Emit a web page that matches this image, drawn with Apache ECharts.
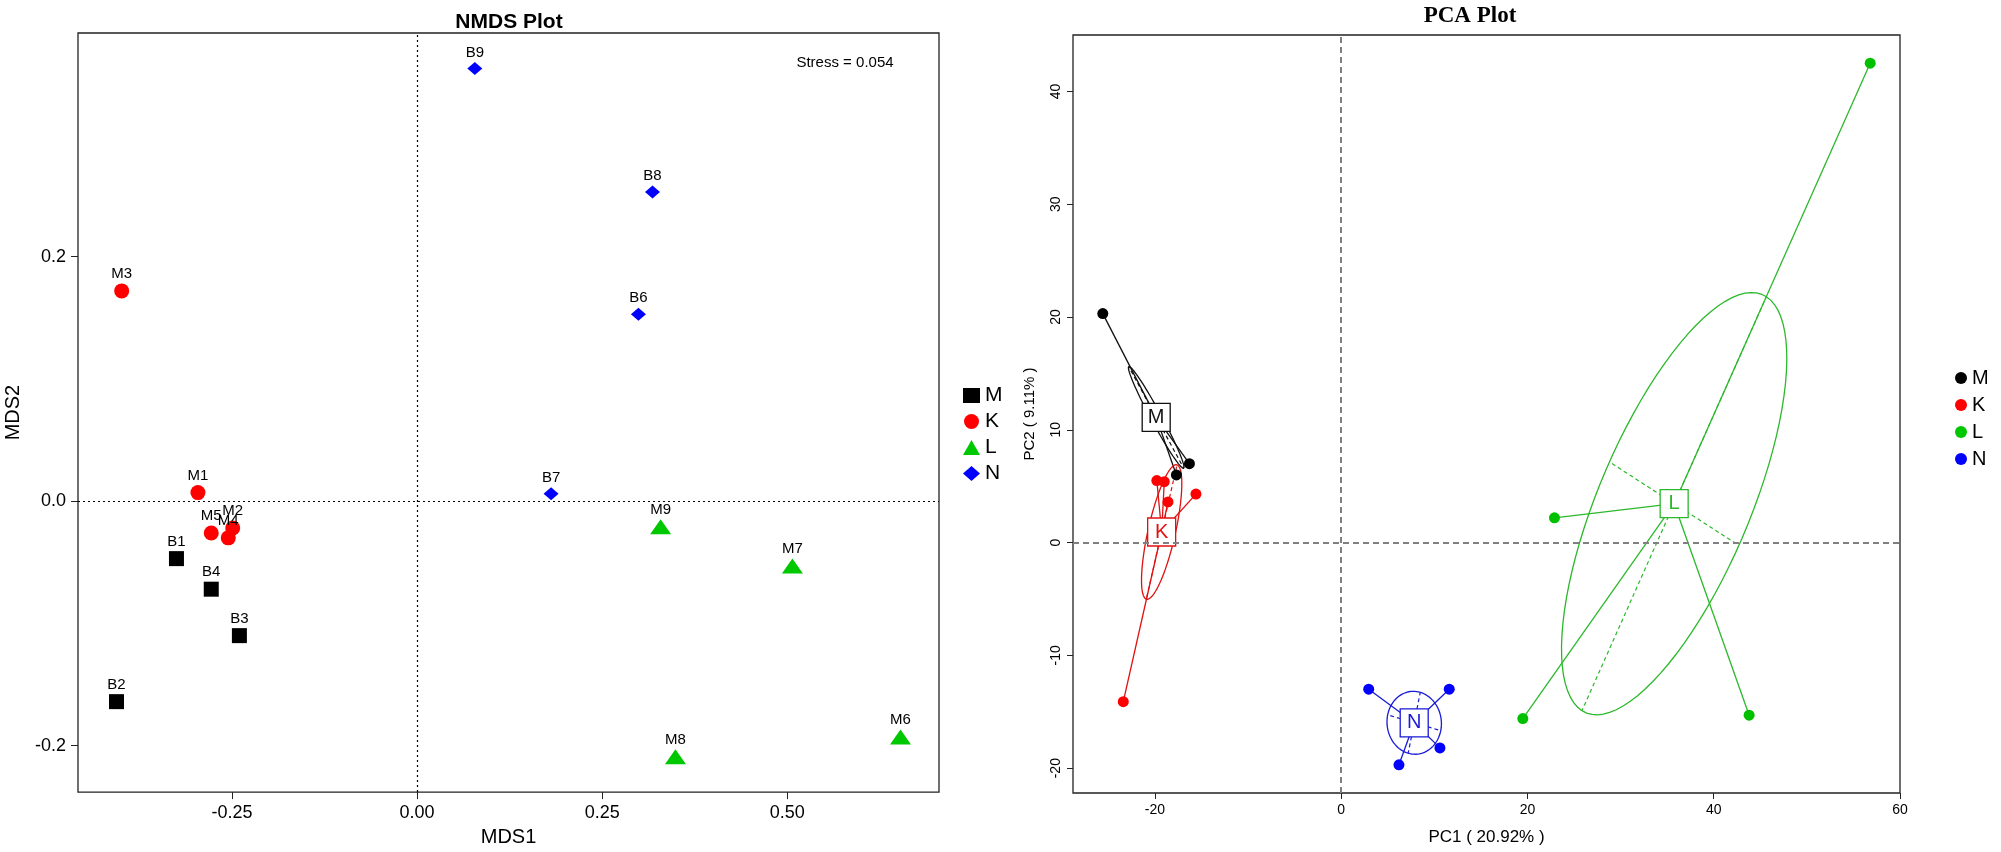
<!DOCTYPE html>
<html>
<head>
<meta charset="utf-8">
<title>NMDS / PCA</title>
<script src="https://cdn.jsdelivr.net/npm/echarts@6/dist/echarts.min.js"></script>
<style>
html, body { margin: 0; padding: 0; background: #fff; }
#main { width: 2001px; height: 852px; }
</style>
</head>
<body>
<div id="main"></div>
<script>
var groups = ['M', 'K', 'L', 'N'];

// NMDS: sample names and (MDS1, MDS2)
var nmdsNamesM = ['B1', 'B2', 'B3', 'B4'];
var nmdsM = [[-0.325, -0.047], [-0.406, -0.164], [-0.240, -0.110], [-0.278, -0.072]];
var nmdsNamesK = ['M1', 'M2', 'M3', 'M4', 'M5'];
var nmdsK = [[-0.296, 0.007], [-0.249, -0.022], [-0.399, 0.172], [-0.255, -0.030], [-0.278, -0.026]];
var nmdsNamesL = ['M6', 'M7', 'M8', 'M9'];
var nmdsL = [[0.653, -0.193], [0.507, -0.053], [0.349, -0.209], [0.329, -0.021]];
var nmdsNamesN = ['B6', 'B7', 'B8', 'B9'];
var nmdsN = [[0.299, 0.153], [0.181, 0.006], [0.318, 0.253], [0.078, 0.354]];
var nmdsXTicks = [-0.25, 0, 0.25, 0.5];
var nmdsYTicks = [-0.2, 0, 0.2];
var stressText = 'Stress = 0.054';

// PCA: (PC1, PC2)
var pcaM = [[-25.6, 20.3], [-16.3, 7.0], [-17.7, 6.0]];
var pcaK = [[-19.8, 5.5], [-19.0, 5.4], [-18.6, 3.6], [-15.6, 4.3], [-23.4, -14.1]];
var pcaL = [[56.8, 42.5], [22.9, 2.2], [19.5, -15.6], [43.8, -15.3]];
var pcaN = [[2.95, -13.0], [11.6, -13.0], [10.6, -18.2], [6.2, -19.7]];
var pcaXTicks = [-20, 0, 20, 40, 60];
var pcaYTicks = [-20, -10, 0, 10, 20, 30, 40];
// ellipse semi axes per group (M, K, L, N)
var ellipseU = [[-2.95, 4.5], [1.65, 5.95], [-9.9, -18.35], [0.65, 2.7]];
var ellipseV = [[0.45, 0.3], [1.4, -0.39], [-6.95, 3.7], [2.85, -0.7]];

var nmdsColors = ['#000000', '#ff0000', '#00c800', '#0000ff'];
var nmdsSymbols = ['rect', 'circle', 'triangle', 'diamond'];
var nmdsSizes = [[15, 15], [15, 15], [21, 15], [15, 13]];
var pcaColors = ['#000000', '#ff0000', '#00c000', '#0000ff'];
var pcaLineColors = ['#111111', '#e01010', '#2cb82c', '#1a1ad8'];

var FONT = '"Liberation Sans", Arial, sans-serif';

function centroid(pts) {
    var sx = 0, sy = 0;
    for (var i = 0; i < pts.length; i++) { sx += pts[i][0]; sy += pts[i][1]; }
    return [sx / pts.length, sy / pts.length];
}

function ellipsePath(c, u, v) {
    var out = [];
    for (var i = 0; i <= 90; i++) {
        var t = Math.PI * 2 * i / 90;
        out.push([c[0] + u[0] * Math.cos(t) + v[0] * Math.sin(t),
                  c[1] + u[1] * Math.cos(t) + v[1] * Math.sin(t)]);
    }
    return out;
}

var myChart = echarts.init(document.getElementById('main'));

var nmdsData = [nmdsM, nmdsK, nmdsL, nmdsN];
var nmdsNames = [nmdsNamesM, nmdsNamesK, nmdsNamesL, nmdsNamesN];
var pcaData = [pcaM, pcaK, pcaL, pcaN];

var series = [];

// NMDS points
for (var g = 0; g < groups.length; g++) {
    var items = [];
    for (var j = 0; j < nmdsData[g].length; j++) {
        items.push({ name: nmdsNames[g][j], value: nmdsData[g][j] });
    }
    var s = {
        name: groups[g],
        type: 'scatter',
        xAxisIndex: 0,
        yAxisIndex: 0,
        symbol: nmdsSymbols[g],
        symbolSize: nmdsSizes[g],
        itemStyle: { color: nmdsColors[g], opacity: 1 },
        label: {
            show: true,
            position: 'top',
            distance: 2,
            formatter: '{b}',
            color: '#000',
            fontSize: 15,
            fontFamily: FONT
        },
        z: 3,
        data: items
    };
    if (g === 0) {
        s.markLine = {
            silent: true,
            symbol: ['none', 'none'],
            label: { show: false },
            lineStyle: { color: '#000', type: [2, 3], width: 1.2 },
            data: [{ xAxis: 0 }, { yAxis: 0 }]
        };
    }
    series.push(s);
}

// PCA: spiders, ellipses, points, centroid boxes
for (var g = 0; g < groups.length; g++) {
    var pts = pcaData[g];
    var c = centroid(pts);
    var u = ellipseU[g], v = ellipseV[g];
    var spider = [];
    for (var j = 0; j < pts.length; j++) {
        spider.push({ coords: [c, pts[j]] });
    }
    var sp = {
        name: groups[g] + ' spider',
        type: 'lines',
        coordinateSystem: 'cartesian2d',
        xAxisIndex: 1,
        yAxisIndex: 1,
        silent: true,
        z: 2,
        lineStyle: { color: pcaLineColors[g], width: 1.3, opacity: 1, curveness: 0 },
        data: spider
    };
    if (g === 0) {
        sp.markLine = {
            silent: true,
            symbol: ['none', 'none'],
            label: { show: false },
            lineStyle: { color: '#808080', type: [6, 4], width: 2 },
            data: [{ xAxis: 0 }, { yAxis: 0 }]
        };
    }
    series.push(sp);
    series.push({
        name: groups[g] + ' ellipse',
        type: 'lines',
        coordinateSystem: 'cartesian2d',
        xAxisIndex: 1,
        yAxisIndex: 1,
        polyline: true,
        silent: true,
        z: 2,
        lineStyle: { color: pcaLineColors[g], width: 1.3, opacity: 1 },
        data: [{ coords: ellipsePath(c, u, v) }]
    });
    series.push({
        name: groups[g] + ' axes',
        type: 'lines',
        coordinateSystem: 'cartesian2d',
        xAxisIndex: 1,
        yAxisIndex: 1,
        silent: true,
        z: 2,
        lineStyle: { color: pcaLineColors[g], width: 1.2, opacity: 1, type: [4, 3] },
        data: [
            { coords: [c, [c[0] + u[0], c[1] + u[1]]] },
            { coords: [c, [c[0] - u[0], c[1] - u[1]]] },
            { coords: [c, [c[0] + v[0], c[1] + v[1]]] },
            { coords: [c, [c[0] - v[0], c[1] - v[1]]] }
        ]
    });
    series.push({
        name: groups[g],
        type: 'scatter',
        xAxisIndex: 1,
        yAxisIndex: 1,
        symbol: 'circle',
        symbolSize: 11,
        itemStyle: { color: pcaColors[g], opacity: 1 },
        z: 3,
        data: pts
    });
    series.push({
        name: groups[g] + ' centre',
        type: 'scatter',
        xAxisIndex: 1,
        yAxisIndex: 1,
        symbol: 'rect',
        symbolSize: [28, 28],
        itemStyle: { color: '#fff', borderColor: pcaLineColors[g], borderWidth: 1.3, opacity: 1 },
        label: {
            show: true,
            position: 'inside',
            formatter: groups[g],
            color: pcaLineColors[g],
            fontSize: 20,
            fontFamily: FONT
        },
        z: 4,
        data: [c]
    });
}

function tickFmt(d) {
    return function (val) { return val.toFixed(d); };
}

var option = {
    animation: false,
    backgroundColor: '#fff',
    graphic: [
        { type: 'text', x: 509, y: 22, style: { text: 'NMDS Plot', font: 'bold 21px ' + FONT, fill: '#000', textAlign: 'center', textVerticalAlign: 'middle' } },
        { type: 'text', x: 845, y: 63, style: { text: stressText, font: '15px ' + FONT, fill: '#000', textAlign: 'center', textVerticalAlign: 'middle' } },
        { type: 'text', x: 1470, y: 16, style: { text: 'PCA Plot', font: 'bold 23px "Liberation Serif", "Times New Roman", serif', fill: '#000', textAlign: 'center', textVerticalAlign: 'middle' } }
    ],
    legend: [
        {
            orient: 'vertical',
            left: 958,
            top: 380,
            itemWidth: 17,
            itemHeight: 15,
            itemGap: 5,
            selectedMode: false,
            textStyle: { fontSize: 21, lineHeight: 16, color: '#000', fontFamily: FONT },
            data: [
                { name: 'M', icon: 'rect' },
                { name: 'K', icon: 'circle' },
                { name: 'L', icon: 'triangle' },
                { name: 'N', icon: 'diamond' }
            ]
        },
        {
            orient: 'vertical',
            left: 1950,
            top: 363,
            itemWidth: 12,
            itemHeight: 12,
            itemGap: 7,
            selectedMode: false,
            textStyle: { fontSize: 20, lineHeight: 20, color: '#000', fontFamily: FONT },
            data: [
                { name: 'M', icon: 'circle' },
                { name: 'K', icon: 'circle' },
                { name: 'L', icon: 'circle' },
                { name: 'N', icon: 'circle' }
            ]
        }
    ],
    grid: [
        { left: 78, top: 33, width: 861, height: 764, show: true, borderColor: '#222', borderWidth: 1.3, backgroundColor: 'transparent' },
        { left: 1073, top: 35, width: 827, height: 758, show: true, borderColor: '#222', borderWidth: 1.3, backgroundColor: 'transparent' }
    ],
    xAxis: [
        {
            gridIndex: 0, type: 'value', min: -0.458, max: 0.705,
            name: 'MDS1', nameLocation: 'middle', nameGap: 30,
            nameTextStyle: { fontSize: 20, color: '#000', fontFamily: FONT },
            axisLine: { show: false, onZero: false }, splitLine: { show: false },
            axisTick: { show: true, length: 7, customValues: nmdsXTicks, lineStyle: { color: '#222' } },
            axisLabel: { customValues: nmdsXTicks, formatter: tickFmt(2), fontSize: 18, color: '#000', margin: 12, fontFamily: FONT }
        },
        {
            gridIndex: 1, type: 'value', min: -28.8, max: 60,
            name: 'PC1 ( 20.92% )', nameLocation: 'middle', nameGap: 36,
            nameTextStyle: { fontSize: 17, color: '#000', fontFamily: FONT },
            axisLine: { show: false, onZero: false }, splitLine: { show: false },
            axisTick: { show: true, length: 6, customValues: pcaXTicks, lineStyle: { color: '#222' } },
            axisLabel: { customValues: pcaXTicks, formatter: tickFmt(0), fontSize: 14, color: '#000', margin: 10, fontFamily: FONT }
        }
    ],
    yAxis: [
        {
            gridIndex: 0, type: 'value', min: -0.238, max: 0.383,
            name: 'MDS2', nameLocation: 'middle', nameGap: 55, nameRotate: 90,
            nameTextStyle: { fontSize: 20, color: '#000', fontFamily: FONT },
            axisLine: { show: false, onZero: false }, splitLine: { show: false },
            axisTick: { show: true, length: 7, customValues: nmdsYTicks, lineStyle: { color: '#222' } },
            axisLabel: { customValues: nmdsYTicks, formatter: tickFmt(1), fontSize: 18, color: '#000', margin: 12, fontFamily: FONT }
        },
        {
            gridIndex: 1, type: 'value', min: -22.2, max: 45,
            name: 'PC2 ( 9.11% )', nameLocation: 'middle', nameGap: 36, nameRotate: 90,
            nameTextStyle: { fontSize: 15, color: '#000', fontFamily: FONT },
            axisLine: { show: false, onZero: false }, splitLine: { show: false },
            axisTick: { show: true, length: 6, customValues: pcaYTicks, lineStyle: { color: '#222' } },
            axisLabel: { customValues: pcaYTicks, formatter: tickFmt(0), rotate: 90, fontSize: 14, color: '#000', margin: 10, fontFamily: FONT }
        }
    ],
    series: series
};

myChart.setOption(option);
</script>
</body>
</html>
